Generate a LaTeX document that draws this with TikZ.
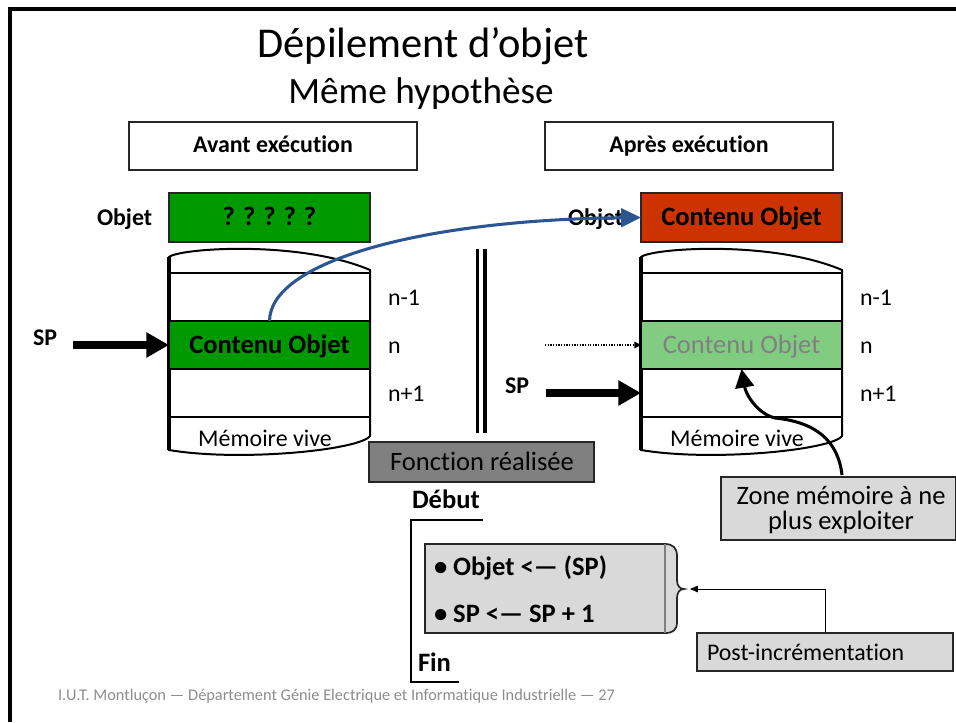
\documentclass[tikz,border=0pt]{standalone}
\usepackage{fontspec}
\setmainfont[Ligatures=NoCommon]{Carlito}
\usetikzlibrary{arrows.meta,fit}
\definecolor{objgreen}{RGB}{0,153,0}
\definecolor{objred}{RGB}{204,51,0}
\definecolor{palegreen}{RGB}{128,204,128}
\definecolor{fadedtext}{RGB}{128,128,128}
\definecolor{edge}{RGB}{38,38,38}
\definecolor{panel}{RGB}{217,217,217}
\definecolor{darkpanel}{RGB}{128,128,128}
\definecolor{linkblue}{RGB}{44,86,145}
\definecolor{footgray}{RGB}{140,140,140}

\begin{document}
\begin{tikzpicture}[x=0.7531pt,y=-0.7531pt,
  txt/.style={inner sep=0pt, outer sep=0pt},
  f12/.style={txt, font=\fontsize{12.3}{14}\selectfont},
  f18/.style={txt, font=\fontsize{18}{21}\selectfont},
  f18b/.style={txt, font=\fontsize{18}{21}\selectfont\bfseries},
  f20/.style={txt, font=\fontsize{20}{24}\selectfont},
  f20b/.style={txt, font=\fontsize{20}{24}\selectfont\bfseries},
  headbox/.style={draw=edge, line width=1.2pt, inner sep=0pt, outer sep=0pt},
  cell/.style={draw=black, line width=1.5pt, inner sep=0pt, outer sep=0pt},
  body/.style={draw=black, line width=1.5pt, fill=white},
  sparrow/.style={line width=6pt, -{Triangle[length=17pt,width=18pt]}},
  movearrow/.style={linkblue, line width=2.3pt, -{Triangle[length=15pt,width=14pt]}},
  hintarrow/.style={line width=2.3pt, -{Triangle[length=14pt,width=14pt]}},
  pointer/.style={line width=0.8pt, dash pattern=on 1pt off 1pt, -{Triangle[length=5pt,width=5pt]}},
  leader/.style={line width=0.75pt, -{Triangle[length=6pt,width=5pt]}}
]
\useasboundingbox (0,0) rectangle (956,722);

% slide frame
\draw[line width=2.3pt] (10,722) -- (10,9) -- (956,9);

% titles
\node[txt, font=\fontsize{32}{38}\selectfont, anchor=base] (title) at (423,57) {Dépilement d’objet};
\node[txt, font=\fontsize{28}{34}\selectfont, anchor=base] (subtitle) at (421,103) {Même hypothèse};

% before / after headers
\node[headbox, fit={(129,122)(417,170)}] (before) {};
\node[f18b, anchor=base] at (273,152) {Avant exécution};
\node[headbox, fit={(545,122)(833,170)}] (after) {};
\node[f18b, anchor=base] at (689,152) {Après exécution};

% object variable, before and after
\node[f18b, anchor=base west] (objL) at (97,225) {Objet};
\node[headbox, fill=objgreen, fit={(169,193)(370,242)}] (Lobj) {};
\node[f20b, anchor=base] at (269.5,225) {? ? ? ? ?};

\node[f18b, anchor=base west] (objR) at (568,225) {Objet};
\node[headbox, fill=objred, fit={(641,193)(842,242)}] (Robj) {};
\node[f20b, anchor=base] at (741.5,225) {Contenu Objet};

% memory stacks
\foreach \dx in {0,472} {
  \draw[body] ({169+\dx},257) .. controls ({180+\dx},248) and ({300+\dx},240) .. ({370+\dx},270)
     -- ({370+\dx},436) .. controls ({360+\dx},450) and ({240+\dx},462) .. ({169+\dx},450) -- cycle;
  \draw[line width=2.3pt] ({169+\dx},257) -- ({169+\dx},450);
}

\node[cell, fit={(169,273)(370,321)}] (La) {};
\node[cell, fill=objgreen, fit={(169,321)(370,369)}] (Lb) {};
\node[cell, fit={(169,369)(370,417)}] (Lc) {};
\node[f20b, anchor=base] at (269.5,353) {Contenu Objet};
\node[f18, anchor=base] at (265,446) {Mémoire vive};
\node[f18, anchor=base west] at (388,305) {n-1};
\node[f18, anchor=base west] at (388,353) {n};
\node[f18, anchor=base west] at (388,401) {n+1};

\node[cell, fit={(641,273)(842,321)}] (Ra) {};
\node[cell, fill=palegreen, fit={(641,321)(842,369)}] (Rb) {};
\node[cell, fit={(641,369)(842,417)}] (Rc) {};
\node[f20, text=fadedtext, anchor=base] at (741.5,353) {Contenu Objet};
\node[f18, anchor=base] at (737,446) {Mémoire vive};
\node[f18, anchor=base west] at (860,305) {n-1};
\node[f18, anchor=base west] at (860,353) {n};
\node[f18, anchor=base west] at (860,401) {n+1};

% separator
\draw[line width=2.6pt] (477.5,249) -- (477.5,433);
\draw[line width=2.6pt] (485,249) -- (485,433);

% stack pointers
\node[f18b, anchor=base west] (spL) at (33,345) {SP};
\coordinate (spLtail) at (73,345);
\draw[sparrow] (spLtail) -- (Lb.west);

\node[f18b, anchor=base west] (spR) at (505,393) {SP};
\coordinate (spRtail) at (546,393);
\draw[sparrow] (spRtail) -- (Rc.west);

\coordinate (oldtail) at (545,345);
\draw[pointer] (oldtail) -- (Rb.west);

% copy of the popped value
\draw[movearrow] (Lb.north) .. controls (270,262) and (420,220) .. (Robj.west);

% function performed
\node[draw=edge, line width=1.2pt, fill=darkpanel, inner sep=0pt, fit={(369,442)(594,482)}] (func) {};
\node[f20, anchor=base] at (482,470) {Fonction réalisée};

\node[f20b, anchor=base west] (start) at (412,508) {Début};
\node[f20b, anchor=base west] (stop) at (418,671) {Fin};
\draw[line width=1.5pt] (483,520) -- (411,520) -- (411,682) -- (459,682);

% instruction block with its brace
\draw[draw=edge, line width=1.3pt, fill=panel]
  (425,544) -- (665,544) .. controls (673,544) and (677,548) .. (677,556)
  -- (677,580) .. controls (677,586) and (680,589) .. (684,589)
  .. controls (680,589) and (677,592) .. (677,598)
  -- (677,622) .. controls (677,630) and (673,633) .. (665,633) -- (425,633) -- cycle;
\draw[fadedtext, line width=0.9pt] (665,544) -- (665,633);
\coordinate (bracetip) at (690,589);
\node[f20b, anchor=base west] (instrA) at (434,575) {• Objet <— (SP)};
\node[f20b, anchor=base west] (instrB) at (434,622) {• SP <— SP + 1};

\node[draw=edge, line width=1.3pt, fill=panel, inner sep=0pt, fit={(697,633)(953,671)}] (post) {};
\node[f18, anchor=base west] at (707,660) {Post-incrémentation};
\draw[leader] (post.north) |- (bracetip);

% unused memory note
\node[draw=edge, line width=1.3pt, fill=panel, inner sep=0pt, fit={(721,477)(956,540)}] (zone) {};
\node[txt, align=center, font=\fontsize{20}{19}\selectfont, anchor=center] at (841,510) {Zone mémoire à ne\\plus exploiter};
\coordinate (zonefoot) at (842,475);
\draw[hintarrow] (zonefoot) .. controls (838,440) and (815,422) .. (775,418)
   .. controls (758,414) and (746,395) .. (Rb.south);

% footer
\node[f12, text=footgray, anchor=base west] at (58,700)
  {I.U.T. Montluçon — Département Génie Electrique et Informatique Industrielle — 27};
\end{tikzpicture}
\end{document}
